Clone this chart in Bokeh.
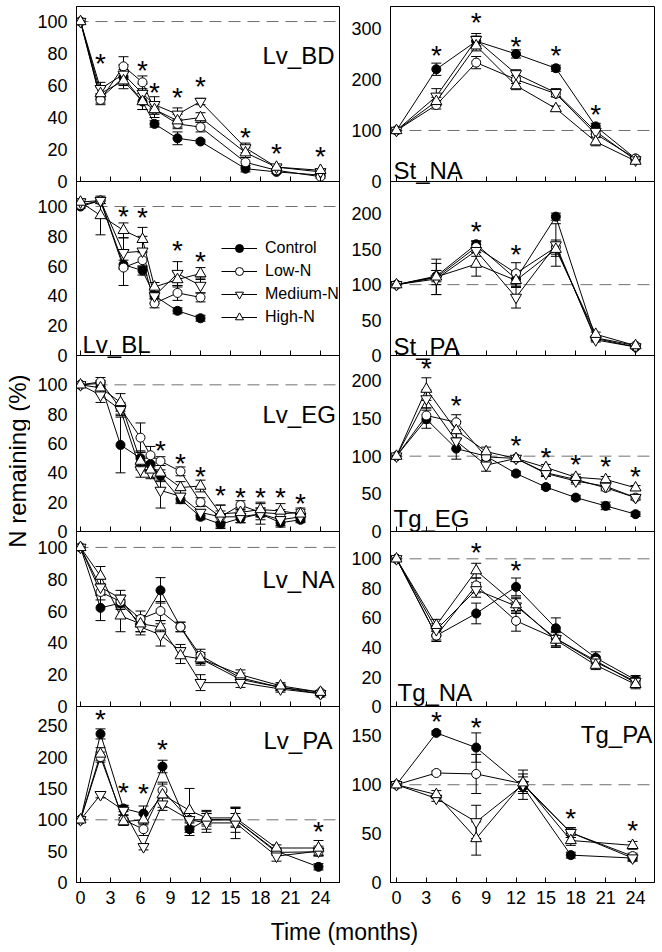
from math import pi
from bokeh.plotting import figure
from bokeh.models import (Range1d, LinearAxis, FixedTicker, Span, Whisker, TeeHead,
                          ColumnDataSource, Legend, LegendItem, CustomJSTickFormatter)
from bokeh.layouts import row, column
from bokeh.embed import file_html
from bokeh.resources import INLINE
from bokeh.core.properties import value

FONT = "Liberation Sans"

# ------------------------------------------------------------------ data
TIME_TICKS = [0, 3, 6, 9, 12, 15, 18, 21, 24]
SERIES = ["Control", "Low-N", "Medium-N", "High-N"]

# Lv_BD
LV_BD_TIME = [0, 2, 4.3, 6.2, 7.4, 9.7, 12, 16.5, 19.6, 24]
LV_BD_CONTROL = [100, 52, 65, 50, 36, 27, 25, 8, 6, 4]
LV_BD_CONTROL_SE = [0, 3, 5, 5, 2, 4, 1, 2, 1, 1]
LV_BD_LOWN = [100, 51, 72, 62, 45, 36, 34, 12, 7, 3]
LV_BD_LOWN_SE = [0, 3, 6, 4, 3, 3, 3, 3, 1, 1]
LV_BD_MEDN = [100, 58, 67, 55, 48, 42, 50, 21, 9, 6]
LV_BD_MEDN_SE = [0, 4, 6, 6, 5, 4, 2, 3, 1, 1]
LV_BD_HIGHN = [100, 55, 63, 50, 45, 38, 40, 18, 9, 7]
LV_BD_HIGHN_SE = [0, 4, 5, 5, 5, 4, 3, 3, 1, 1]
LV_BD_STAR_T = [2, 6.2, 7.4, 9.7, 12, 16.5, 19.6, 24]
LV_BD_STAR_Y = [76, 72, 58, 55, 62, 30, 20, 18]
LV_BD_TICKS = [0, 20, 40, 60, 80, 100]

# Lv_BL
LV_BL_TIME = [0, 2, 4.3, 6.2, 7.4, 9.7, 12]
LV_BL_CONTROL = [100, 104, 61, 57, 40, 30, 25]
LV_BL_CONTROL_SE = [1, 2, 3, 3, 2, 2, 2]
LV_BL_LOWN = [101, 104, 59, 64, 35, 42, 39]
LV_BL_LOWN_SE = [2, 2, 12, 5, 3, 5, 3]
LV_BL_MEDN = [103, 104, 69, 70, 40, 55, 47]
LV_BL_MEDN_SE = [2, 2, 10, 10, 5, 8, 5]
LV_BL_HIGHN = [103, 94, 84, 78, 46, 51, 55]
LV_BL_HIGHN_SE = [2, 13, 5, 8, 3, 5, 4]
LV_BL_STAR_T = [4.3, 6.2, 9.7, 12]
LV_BL_STAR_Y = [96, 95, 73, 66]
LV_BL_TICKS = [0, 20, 40, 60, 80, 100]

# Lv_EG
LV_EG_TIME = [0, 2, 4, 6, 7, 8, 10, 12, 14, 16, 18, 20, 22]
LV_EG_CONTROL = [100, 101, 59, 50, 46, 38, 22, 10, 5, 9, 12, 6, 8]
LV_EG_CONTROL_SE = [0, 2, 19, 5, 4, 4, 3, 2, 2, 3, 4, 2, 2]
LV_EG_LOWN = [100, 102, 84, 64, 52, 48, 41, 20, 10, 18, 13, 12, 13]
LV_EG_LOWN_SE = [0, 3, 4, 10, 6, 3, 3, 3, 4, 3, 3, 3, 3]
LV_EG_MEDN = [100, 93, 83, 42, 40, 28, 24, 13, 10, 10, 12, 8, 10]
LV_EG_MEDN_SE = [0, 5, 4, 5, 4, 12, 4, 2, 8, 4, 7, 5, 3]
LV_EG_HIGHN = [100, 98, 88, 48, 42, 40, 30, 31, 12, 13, 15, 14, 12]
LV_EG_HIGHN_SE = [0, 4, 6, 6, 5, 5, 4, 4, 6, 3, 5, 5, 3]
LV_EG_STAR_T = [8, 10, 12, 14, 16, 18, 20, 22]
LV_EG_STAR_Y = [58, 49, 40, 27, 26, 26, 26, 22]
LV_EG_TICKS = [0, 20, 40, 60, 80, 100]

# Lv_NA
LV_NA_TIME = [0, 2, 4, 6, 8, 10, 12, 16, 20, 24]
LV_NA_CONTROL = [100, 62, 65, 52, 73, 50, 30, 17, 12, 8]
LV_NA_CONTROL_SE = [0, 8, 4, 5, 8, 3, 3, 2, 2, 1]
LV_NA_LOWN = [100, 72, 66, 55, 60, 50, 32, 18, 12, 9]
LV_NA_LOWN_SE = [0, 5, 4, 5, 6, 3, 4, 3, 2, 1]
LV_NA_MEDN = [100, 75, 68, 50, 45, 35, 15, 15, 11, 8]
LV_NA_MEDN_SE = [0, 5, 5, 5, 7, 4, 5, 3, 2, 2]
LV_NA_HIGHN = [100, 82, 57, 52, 50, 32, 30, 20, 13, 9]
LV_NA_HIGHN_SE = [0, 6, 10, 5, 4, 5, 4, 3, 2, 1]
LV_NA_STAR_T = []
LV_NA_STAR_Y = []
LV_NA_TICKS = [0, 20, 40, 60, 80, 100]

# Lv_PA
LV_PA_TIME = [0, 2, 4.3, 6.3, 8.2, 10.9, 12.6, 15.5, 19.6, 23.8]
LV_PA_CONTROL = [100, 237, 118, 110, 185, 85, 100, 100, 50, 25]
LV_PA_CONTROL_SE = [0, 8, 5, 12, 10, 10, 10, 10, 5, 5]
LV_PA_LOWN = [100, 200, 100, 85, 147, 100, 100, 100, 48, 49]
LV_PA_LOWN_SE = [0, 8, 8, 10, 10, 10, 15, 20, 5, 5]
LV_PA_MEDN = [100, 140, 115, 57, 125, 100, 95, 95, 42, 50]
LV_PA_MEDN_SE = [0, 5, 8, 5, 10, 12, 15, 25, 8, 8]
LV_PA_HIGHN = [100, 205, 97, 100, 140, 115, 103, 103, 55, 55]
LV_PA_HIGHN_SE = [0, 10, 6, 8, 20, 35, 10, 15, 5, 12]
LV_PA_STAR_T = [2, 4.3, 6.3, 8.2, 23.8]
LV_PA_STAR_Y = [266, 150, 149, 218, 88]
LV_PA_TICKS = [0, 50, 100, 150, 200, 250]

# St_NA
ST_NA_TIME = [0, 4, 8, 12, 16, 20, 24]
ST_NA_CONTROL = [100, 220, 275, 250, 222, 108, 45]
ST_NA_CONTROL_SE = [0, 12, 10, 8, 6, 6, 3]
ST_NA_LOWN = [100, 150, 233, 200, 172, 93, 45]
ST_NA_LOWN_SE = [0, 8, 12, 8, 6, 5, 3]
ST_NA_MEDN = [100, 167, 278, 211, 174, 98, 42]
ST_NA_MEDN_SE = [0, 15, 12, 8, 8, 5, 3]
ST_NA_HIGHN = [100, 157, 266, 188, 143, 78, 40]
ST_NA_HIGHN_SE = [0, 8, 10, 8, 5, 8, 3]
ST_NA_STAR_T = [4, 8, 12, 16, 20]
ST_NA_STAR_Y = [255, 320, 272, 255, 140]
ST_NA_TICKS = [0, 100, 200, 300]

# St_PA
ST_PA_TIME = [0, 4, 8, 12, 16, 20, 24]
ST_PA_CONTROL = [100, 112, 157, 108, 196, 24, 12]
ST_PA_CONTROL_SE = [0, 8, 5, 10, 5, 3, 2]
ST_PA_LOWN = [100, 110, 153, 116, 153, 25, 14]
ST_PA_LOWN_SE = [0, 10, 8, 15, 10, 3, 2]
ST_PA_MEDN = [100, 108, 148, 82, 156, 22, 12]
ST_PA_MEDN_SE = [0, 22, 8, 15, 30, 3, 2]
ST_PA_HIGHN = [100, 111, 129, 106, 150, 30, 14]
ST_PA_HIGHN_SE = [0, 25, 17, 10, 10, 3, 3]
ST_PA_STAR_T = [8, 12]
ST_PA_STAR_Y = [181, 148]
ST_PA_TICKS = [0, 50, 100, 150, 200]

# Tg_EG
TG_EG_TIME = [0, 3, 6, 9, 12, 15, 18, 21, 24]
TG_EG_CONTROL = [100, 149, 110, 100, 77, 59, 45, 34, 23]
TG_EG_CONTROL_SE = [0, 12, 14, 5, 3, 3, 3, 5, 3]
TG_EG_LOWN = [100, 154, 145, 99, 97, 78, 69, 58, 45]
TG_EG_LOWN_SE = [0, 10, 10, 5, 3, 4, 4, 4, 3]
TG_EG_MEDN = [100, 176, 120, 88, 97, 77, 67, 60, 45]
TG_EG_MEDN_SE = [0, 12, 10, 8, 3, 4, 4, 4, 3]
TG_EG_HIGHN = [100, 189, 134, 106, 97, 85, 72, 69, 58]
TG_EG_HIGHN_SE = [0, 15, 12, 6, 3, 4, 4, 4, 3]
TG_EG_STAR_T = [3, 6, 12, 15, 18, 21, 24]
TG_EG_STAR_Y = [222, 173, 120, 104, 94, 91, 78]
TG_EG_TICKS = [0, 50, 100, 150, 200]

# Tg_NA
TG_NA_TIME = [0, 4, 8, 12, 16, 20, 24]
TG_NA_CONTROL = [100, 48, 63, 81, 53, 33, 18]
TG_NA_CONTROL_SE = [0, 4, 7, 6, 7, 4, 3]
TG_NA_LOWN = [100, 48, 82, 58, 46, 31, 16]
TG_NA_LOWN_SE = [0, 3, 5, 7, 5, 3, 3]
TG_NA_MEDN = [100, 52, 79, 68, 46, 30, 17]
TG_NA_MEDN_SE = [0, 4, 5, 5, 5, 3, 3]
TG_NA_HIGHN = [100, 55, 92, 69, 45, 28, 15]
TG_NA_HIGHN_SE = [0, 4, 5, 5, 5, 3, 3]
TG_NA_STAR_T = [8, 12]
TG_NA_STAR_Y = [107, 95]
TG_NA_TICKS = [0, 20, 40, 60, 80, 100]

# Tg_PA
TG_PA_TIME = [0, 4, 8, 12.7, 17.5, 23.7]
TG_PA_CONTROL = [100, 153, 138, 98, 28, 25]
TG_PA_CONTROL_SE = [0, 2, 15, 5, 3, 3]
TG_PA_LOWN = [100, 112, 111, 101, 51, 27]
TG_PA_LOWN_SE = [0, 2, 20, 10, 5, 3]
TG_PA_MEDN = [100, 86, 62, 100, 51, 25]
TG_PA_MEDN_SE = [0, 3, 17, 15, 5, 3]
TG_PA_HIGHN = [100, 90, 45, 102, 43, 38]
TG_PA_HIGHN_SE = [0, 4, 17, 6, 5, 4]
TG_PA_STAR_T = [4, 8, 17.5, 23.7]
TG_PA_STAR_Y = [169, 163, 70, 57]
TG_PA_TICKS = [0, 50, 100, 150]

# ------------------------------------------------------------------ layout
FRAME_W = 264
FRAME_H = 876
BANDS = [0, 175, 349, 525, 700, 876]   # panel borders, px from frame top
TOP_BORDER = 6
BOTTOM_BORDER = 32
Y_TITLE_W = 30
X_TITLE_H = 34

# (key, label, time, means, errors, stars_t, stars_y, ticks, y at band top, label x, label y)
LEFT = [
    ("lv_bd", "Lv_BD", LV_BD_TIME,
     [LV_BD_CONTROL, LV_BD_LOWN, LV_BD_MEDN, LV_BD_HIGHN],
     [LV_BD_CONTROL_SE, LV_BD_LOWN_SE, LV_BD_MEDN_SE, LV_BD_HIGHN_SE],
     LV_BD_STAR_T, LV_BD_STAR_Y, LV_BD_TICKS, 109.4, 18.2, 79),
    ("lv_bl", "Lv_BL", LV_BL_TIME,
     [LV_BL_CONTROL, LV_BL_LOWN, LV_BL_MEDN, LV_BL_HIGHN],
     [LV_BL_CONTROL_SE, LV_BL_LOWN_SE, LV_BL_MEDN_SE, LV_BL_HIGHN_SE],
     LV_BL_STAR_T, LV_BL_STAR_Y, LV_BL_TICKS, 116.8, 0.2, 7.4),
    ("lv_eg", "Lv_EG", LV_EG_TIME,
     [LV_EG_CONTROL, LV_EG_LOWN, LV_EG_MEDN, LV_EG_HIGHN],
     [LV_EG_CONTROL_SE, LV_EG_LOWN_SE, LV_EG_MEDN_SE, LV_EG_HIGHN_SE],
     LV_EG_STAR_T, LV_EG_STAR_Y, LV_EG_TICKS, 120, 18.2, 80),
    ("lv_na", "Lv_NA", LV_NA_TIME,
     [LV_NA_CONTROL, LV_NA_LOWN, LV_NA_MEDN, LV_NA_HIGHN],
     [LV_NA_CONTROL_SE, LV_NA_LOWN_SE, LV_NA_MEDN_SE, LV_NA_HIGHN_SE],
     LV_NA_STAR_T, LV_NA_STAR_Y, LV_NA_TICKS, 110, 18.2, 80),
    ("lv_pa", "Lv_PA", LV_PA_TIME,
     [LV_PA_CONTROL, LV_PA_LOWN, LV_PA_MEDN, LV_PA_HIGHN],
     [LV_PA_CONTROL_SE, LV_PA_LOWN_SE, LV_PA_MEDN_SE, LV_PA_HIGHN_SE],
     LV_PA_STAR_T, LV_PA_STAR_Y, LV_PA_TICKS, 280.7, 18.3, 226),
]
RIGHT = [
    ("st_na", "St_NA", ST_NA_TIME,
     [ST_NA_CONTROL, ST_NA_LOWN, ST_NA_MEDN, ST_NA_HIGHN],
     [ST_NA_CONTROL_SE, ST_NA_LOWN_SE, ST_NA_MEDN_SE, ST_NA_HIGHN_SE],
     ST_NA_STAR_T, ST_NA_STAR_Y, ST_NA_TICKS, 343, -0.3, 21.6),
    ("st_pa", "St_PA", ST_PA_TIME,
     [ST_PA_CONTROL, ST_PA_LOWN, ST_PA_MEDN, ST_PA_HIGHN],
     [ST_PA_CONTROL_SE, ST_PA_LOWN_SE, ST_PA_MEDN_SE, ST_PA_HIGHN_SE],
     ST_PA_STAR_T, ST_PA_STAR_Y, ST_PA_TICKS, 245.6, -0.3, 12.7),
    ("tg_eg", "Tg_EG", TG_EG_TIME,
     [TG_EG_CONTROL, TG_EG_LOWN, TG_EG_MEDN, TG_EG_HIGHN],
     [TG_EG_CONTROL_SE, TG_EG_LOWN_SE, TG_EG_MEDN_SE, TG_EG_HIGHN_SE],
     TG_EG_STAR_T, TG_EG_STAR_Y, TG_EG_TICKS, 233.6, -0.3, 16.9),
    ("tg_na", "Tg_NA", TG_NA_TIME,
     [TG_NA_CONTROL, TG_NA_LOWN, TG_NA_MEDN, TG_NA_HIGHN],
     [TG_NA_CONTROL_SE, TG_NA_LOWN_SE, TG_NA_MEDN_SE, TG_NA_HIGHN_SE],
     TG_NA_STAR_T, TG_NA_STAR_Y, TG_NA_TICKS, 118.5, 0.1, 9.7),
    ("tg_pa", "Tg_PA", TG_PA_TIME,
     [TG_PA_CONTROL, TG_PA_LOWN, TG_PA_MEDN, TG_PA_HIGHN],
     [TG_PA_CONTROL_SE, TG_PA_LOWN_SE, TG_PA_MEDN_SE, TG_PA_HIGHN_SE],
     TG_PA_STAR_T, TG_PA_STAR_Y, TG_PA_TICKS, 180, 18.5, 151),
]

MARKERS = [("circle", 9, "black"), ("circle", 9, "white"),
           ("inverted_triangle", 11, "white"), ("triangle", 11, "white")]


def build_column(panels, x_start, x_end, border_left, border_right, legend_panel=None):
    # default y range = frame pixels from bottom; used only for the shared tick-label axis
    p = figure(frame_width=FRAME_W, frame_height=FRAME_H,
               x_range=Range1d(x_start, x_end), y_range=Range1d(0, FRAME_H),
               x_axis_type=None, y_axis_type=None,
               min_border_left=border_left, min_border_right=border_right,
               min_border_top=TOP_BORDER, min_border_bottom=BOTTOM_BORDER,
               output_backend="svg", toolbar_location=None)
    p.outline_line_color = "black"
    p.outline_line_width = 1
    p.background_fill_color = "white"
    p.border_fill_color = "white"

    ranges = {}
    tick_pos, tick_txt = [], {}
    for k, panel in enumerate(panels):
        key, yticks, ymax = panel[0], panel[7], panel[8]
        top, bot = BANDS[k], BANDS[k + 1]
        s = (bot - top) / ymax
        ranges[key] = Range1d(-(FRAME_H - bot) / s, bot / s)
        base = FRAME_H - bot
        for v in yticks:
            pos = round(base + v * s, 1)
            tick_pos.append(pos)
            tick_txt[pos] = str(v)
    p.extra_y_ranges = ranges

    yax = LinearAxis(ticker=FixedTicker(ticks=tick_pos),
                     major_label_overrides=tick_txt,
                     major_tick_in=0, major_tick_out=0,
                     minor_tick_in=0, minor_tick_out=0,
                     major_label_standoff=9,
                     major_label_text_font=FONT,
                     major_label_text_font_size="18px",
                     major_label_text_color="black",
                     axis_line_color="black")
    p.add_layout(yax, "left")

    for k, panel in enumerate(panels):
        (key, label, t, means, errs, st_t, st_y, yticks, ymax, lx, ly) = panel
        last = k == len(panels) - 1

        xax = LinearAxis(y_range_name=key, ticker=FixedTicker(ticks=TIME_TICKS),
                         major_tick_in=5, major_tick_out=0,
                         minor_tick_in=0, minor_tick_out=0,
                         axis_line_color="black", major_tick_line_color="black",
                         major_label_text_font=FONT,
                         major_label_text_font_size="18px",
                         major_label_text_color="black",
                         major_label_standoff=8)
        if not last:
            xax.fixed_location = 0
            xax.formatter = CustomJSTickFormatter(code="return ''")
        p.add_layout(xax, "below")

        p.add_layout(Span(location=100, dimension="width", y_range_name=key,
                          line_color="#707070", line_dash="12 7", line_width=1,
                          level="underlay"))

        for m, e in zip(means, errs):
            src = ColumnDataSource(dict(
                x=[ti for ti, ei in zip(t, e) if ei > 0],
                lo=[mi - ei for mi, ei in zip(m, e) if ei > 0],
                hi=[mi + ei for mi, ei in zip(m, e) if ei > 0]))
            p.add_layout(Whisker(base="x", lower="lo", upper="hi", source=src,
                                 y_range_name=key, level="underlay",
                                 line_color="black", line_width=1,
                                 upper_head=TeeHead(size=10, line_color="black", line_width=1),
                                 lower_head=TeeHead(size=10, line_color="black", line_width=1)))

        items = []
        line_rs = []
        for m in means:
            line_rs.append(p.line(t, m, y_range_name=key, line_color="black", line_width=1))
        for name, m, (mk, sz, fill), lr in zip(SERIES, means, MARKERS, line_rs):
            sr = p.scatter(t, m, y_range_name=key, marker=mk, size=sz,
                           fill_color=fill, line_color="black", line_width=1)
            items.append(LegendItem(label=name, renderers=[lr, sr]))

        if st_t:
            p.text(x=st_t, y=st_y, text=["*"] * len(st_t), y_range_name=key,
                   text_font=value(FONT), text_font_size="28px", text_color="black",
                   text_align="center", text_baseline="alphabetic", y_offset=4)

        p.text(x=[lx], y=[ly], text=[label], y_range_name=key,
               text_font=value(FONT), text_font_size="24px", text_color="black",
               text_align="left", text_baseline="alphabetic")

        if legend_panel == key:
            leg = Legend(items=items, location=(145, 555), orientation="vertical",
                         glyph_width=36, glyph_height=20, label_height=20,
                         label_standoff=8, spacing=3, padding=0, margin=0,
                         border_line_color=None, background_fill_alpha=0,
                         label_text_font=FONT, label_text_font_size="16px",
                         label_text_color="black")
            p.add_layout(leg)
    return p


left = build_column(LEFT, -0.4, 26.0, 76 - Y_TITLE_W, 0, legend_panel="lv_bl")
right = build_column(RIGHT, -0.6, 25.9, 50, 1)

col_h = TOP_BORDER + FRAME_H + BOTTOM_BORDER
ytitle = figure(width=Y_TITLE_W, height=col_h, x_range=Range1d(0, 1), y_range=Range1d(0, 1),
                x_axis_type=None, y_axis_type=None, min_border=0,
                output_backend="svg", toolbar_location=None)
ytitle.outline_line_color = None
ytitle.text(x=[17 / Y_TITLE_W], y=[0.481], text=["N remaining (%)"], angle=pi / 2,
            text_font=value(FONT), text_font_size="24px", text_color="black",
            text_align="center", text_baseline="middle")

total_w = Y_TITLE_W + (76 - Y_TITLE_W) + FRAME_W + 50 + FRAME_W + 1
xtitle = figure(width=total_w, height=X_TITLE_H, x_range=Range1d(0, 1), y_range=Range1d(0, 1),
                x_axis_type=None, y_axis_type=None, min_border=0,
                output_backend="svg", toolbar_location=None)
xtitle.outline_line_color = None
xtitle.text(x=[344 / total_w], y=[0.5], text=["Time (months)"],
            text_font=value(FONT), text_font_size="23px", text_color="black",
            text_align="center", text_baseline="middle")

layout = column(row(ytitle, left, right), xtitle)

open("out.html", "w").write(file_html(layout, INLINE))
